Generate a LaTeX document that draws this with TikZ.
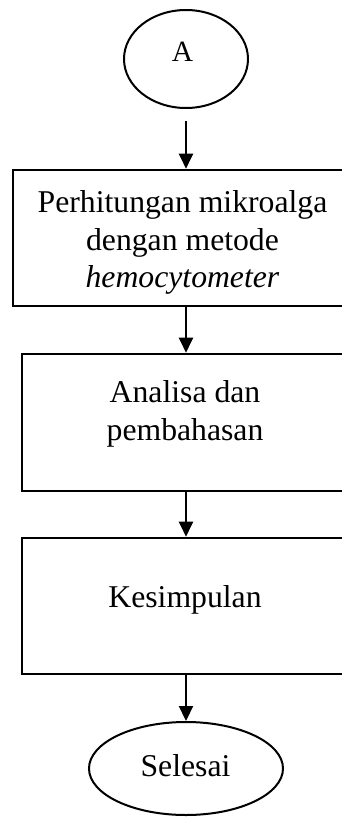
\documentclass[tikz,border=0pt]{standalone}
\usepackage{fontspec}
\setmainfont{Liberation Serif}
\usetikzlibrary{arrows.meta,shapes.geometric}

\begin{document}
\begin{tikzpicture}[x=1pt,y=-1pt,
  procbox/.style={draw, line width=2.6pt, inner sep=0pt},
  oval/.style={draw, ellipse, line width=2pt, inner sep=0pt},
  lbl/.style={inner sep=0pt, align=center, font=\fontsize{31.7}{37.5}\selectfont},
  arr/.style={-{Triangle[width=14pt,length=15pt]}, line width=2.2pt}]
\useasboundingbox (0,0) rectangle (342,817);
\clip (0,0) rectangle (342,817);

% terminal shapes
\node[oval, minimum width=124pt, minimum height=98pt] (A) at (186,59) {};
\node[lbl, anchor=base, font=\fontsize{29.5}{35}\selectfont] (tA) at (182.5,61.7) {A};

% process boxes (their right sides run past the page edge)
\node[procbox, minimum width=347pt, minimum height=136pt] (b1) at (186.5,238) {};
\node[lbl, anchor=north] (t1) at (182.5,190.4)
  {Perhitungan mikroalga\\dengan metode\\\textit{hemocytometer}};

\node[procbox, minimum width=338pt, minimum height=137pt] (b2) at (191,422.5) {};
\node[lbl, anchor=north] (t2) at (185,380.5) {Analisa dan\\pembahasan};

\node[procbox, minimum width=338pt, minimum height=136pt] (b3) at (191,606) {};
\node[lbl, anchor=base] (t3) at (185,607) {Kesimpulan};

\node[oval, minimum width=194pt, minimum height=93pt] (E) at (186,768.5) {};
\node[lbl, anchor=base] (tE) at (185.5,776) {Selesai};

% flow
\draw[arr, shorten <=12pt] (A.south) -- (A.south |- b1.north);
\draw[arr] (A.south |- b1.south) -- (A.south |- b2.north);
\draw[arr] (A.south |- b2.south) -- (A.south |- b3.north);
\draw[arr] (A.south |- b3.south) -- (E.north);
\end{tikzpicture}
\end{document}
